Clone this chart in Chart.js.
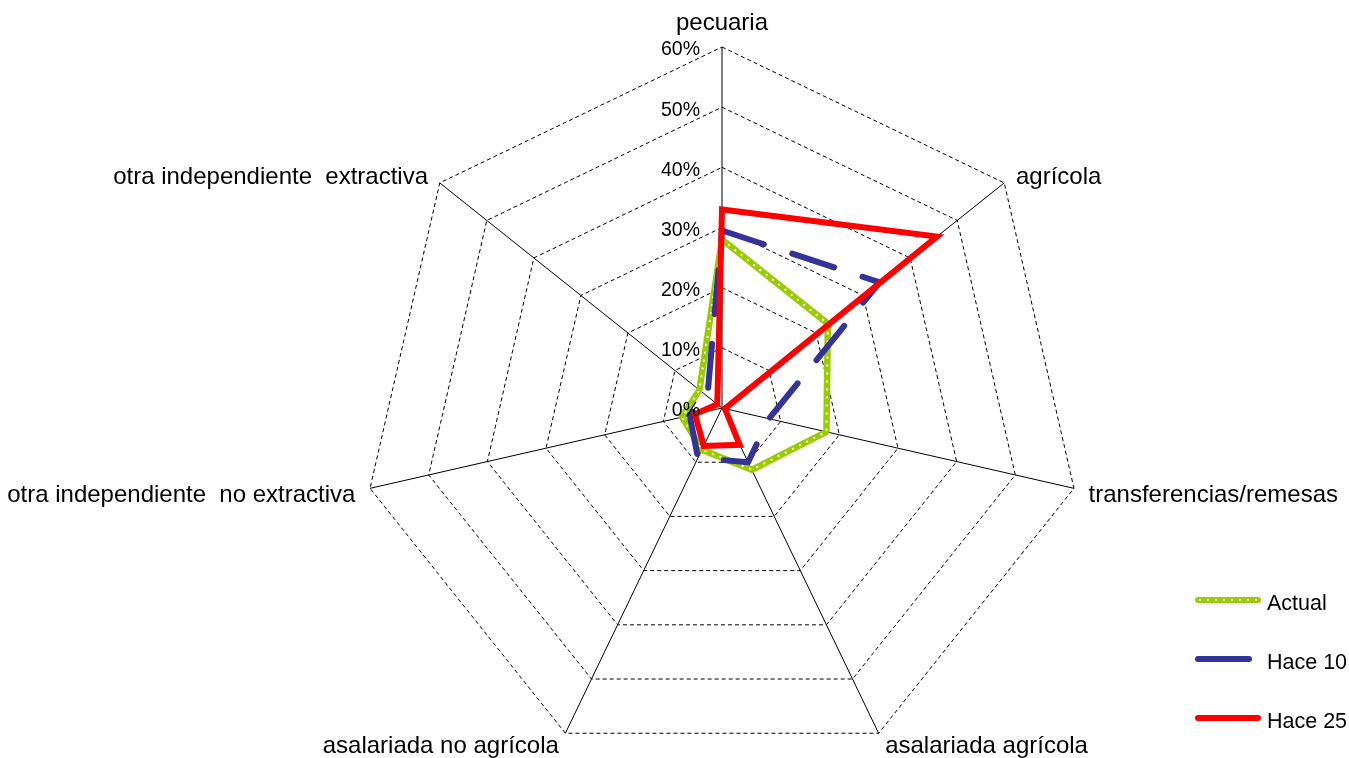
<!DOCTYPE html>
<html>
<head>
<meta charset="utf-8">
<script src="https://cdn.jsdelivr.net/npm/chart.js@4.4.0/dist/chart.umd.min.js"></script>
<style>
html,body{margin:0;padding:0;background:#ffffff;overflow:hidden;}
#wrap{width:1349px;height:758px;position:relative;}
</style>
</head>
<body>
<div id="wrap"><canvas id="c" width="1349" height="758"></canvas></div>
<script>
// ---- data ----
const categories = ['pecuaria', 'agrícola', 'transferencias/remesas', 'asalariada agrícola',
  'asalariada no agrícola', 'otra independiente  no extractiva', 'otra independiente  extractiva'];
const actualValues = [28, 22.5, 17.8, 11.4, 7.7, 6.8, 4.8];
const hace10Values = [29.5, 33.5, 8, 10, 9.2, 5.5, 3.1];
const hace25Values = [33, 45.7, 0.5, 6.8, 7, 4.6, 1];
const tickValues = [0, 10, 20, 30, 40, 50, 60];
const seriesNames = ['Actual', 'Hace 10', 'Hace 25'];

// ---- styles ----
const FONT = "'Liberation Sans', Arial, sans-serif";
const GREEN = '#99CC00', BLUE = '#333399', RED = '#FF0000';

const overlayPlugin = {
  id: 'overlay',
  afterDraw(chart) {
    const ctx = chart.ctx;
    const s = chart.scales.r;
    ctx.save();
    ctx.fillStyle = '#000';
    // tick labels (left of vertical axis)
    ctx.font = '19.5px ' + FONT;
    ctx.textAlign = 'right';
    ctx.textBaseline = 'middle';
    s.ticks.forEach(t => {
      const d = s.getDistanceFromCenterForValue(t.value);
      ctx.fillText(t.label, s.xCenter - 22, s.yCenter - d + 3);
    });
    // category labels
    ctx.font = '24px ' + FONT;
    categories.forEach((lab, i) => {
      const p = s.getPointPosition(i, s.drawingArea + 15);
      const dx = p.x - s.xCenter;
      ctx.textBaseline = 'middle';
      if (Math.abs(dx) < 1) {
        ctx.textAlign = 'center';
        ctx.fillText(lab, p.x, p.y - 9);
      } else {
        ctx.textAlign = dx > 0 ? 'left' : 'right';
        const yShift = p.y > s.yCenter + 200 ? 0 : 4;
        ctx.fillText(lab, p.x, p.y + yShift);
      }
    });
    // legend
    const lx0 = 1198, ly0 = 600, lstep = 59;
    const entries = [
      {name: seriesNames[0], color: GREEN, len: 60, dots: true},
      {name: seriesNames[1], color: BLUE, len: 51, dots: false},
      {name: seriesNames[2], color: RED, len: 60, dots: false}
    ];
    entries.forEach((e, k) => {
      const y = ly0 + k * lstep;
      ctx.beginPath();
      ctx.lineWidth = 6;
      ctx.lineCap = 'round';
      ctx.strokeStyle = e.color;
      ctx.setLineDash([]);
      ctx.moveTo(lx0, y);
      ctx.lineTo(lx0 + e.len, y);
      ctx.stroke();
      if (e.dots) {
        ctx.beginPath();
        ctx.lineWidth = 2;
        ctx.lineCap = 'butt';
        ctx.strokeStyle = '#ffffff';
        ctx.setLineDash([2, 6]);
        ctx.moveTo(lx0 + 1, y);
        ctx.lineTo(lx0 + e.len, y);
        ctx.stroke();
        ctx.setLineDash([]);
      }
      ctx.fillStyle = '#000';
      ctx.font = '21.5px ' + FONT;
      ctx.textAlign = 'left';
      ctx.textBaseline = 'middle';
      ctx.fillText(e.name, 1267, y + 4);
    });
    ctx.restore();
  }
};

new Chart(document.getElementById('c'), {
  type: 'radar',
  data: {
    labels: categories,
    datasets: [
      {label: seriesNames[2], data: hace25Values, borderColor: RED, borderWidth: 6,
       borderJoinStyle: 'miter', fill: false, pointRadius: 0, pointHoverRadius: 0, order: 0},
      {label: seriesNames[1], data: hace10Values, borderColor: BLUE, borderWidth: 6,
       borderDash: [44, 30], borderCapStyle: 'round', borderJoinStyle: 'round',
       fill: false, pointRadius: 0, pointHoverRadius: 0, order: 1},
      {label: seriesNames[0] + ' dots', data: actualValues, borderColor: '#ffffff', borderWidth: 2,
       borderDash: [2, 6], fill: false, pointRadius: 0, pointHoverRadius: 0, order: 2},
      {label: seriesNames[0], data: actualValues, borderColor: GREEN, borderWidth: 6.5,
       borderJoinStyle: 'round', fill: false, pointRadius: 0, pointHoverRadius: 0, order: 3}
    ]
  },
  options: {
    responsive: false,
    animation: false,
    devicePixelRatio: 1,
    plugins: {legend: {display: false}, tooltip: {enabled: false}},
    elements: {line: {tension: 0}},
    scales: {
      r: {
        min: tickValues[0],
        max: tickValues[tickValues.length - 1],
        ticks: {stepSize: 10, display: false, callback: v => v + '%'},
        pointLabels: {display: false},
        grid: {color: '#000', lineWidth: 1, circular: false},
        border: {dash: [4, 3]},
        angleLines: {color: '#000', lineWidth: 1},
        afterFit: (scale) => {
          scale.xCenter = 722;
          scale.yCenter = 408;
          scale.drawingArea = 361;
        }
      }
    }
  },
  plugins: [overlayPlugin]
});
</script>
</body>
</html>
